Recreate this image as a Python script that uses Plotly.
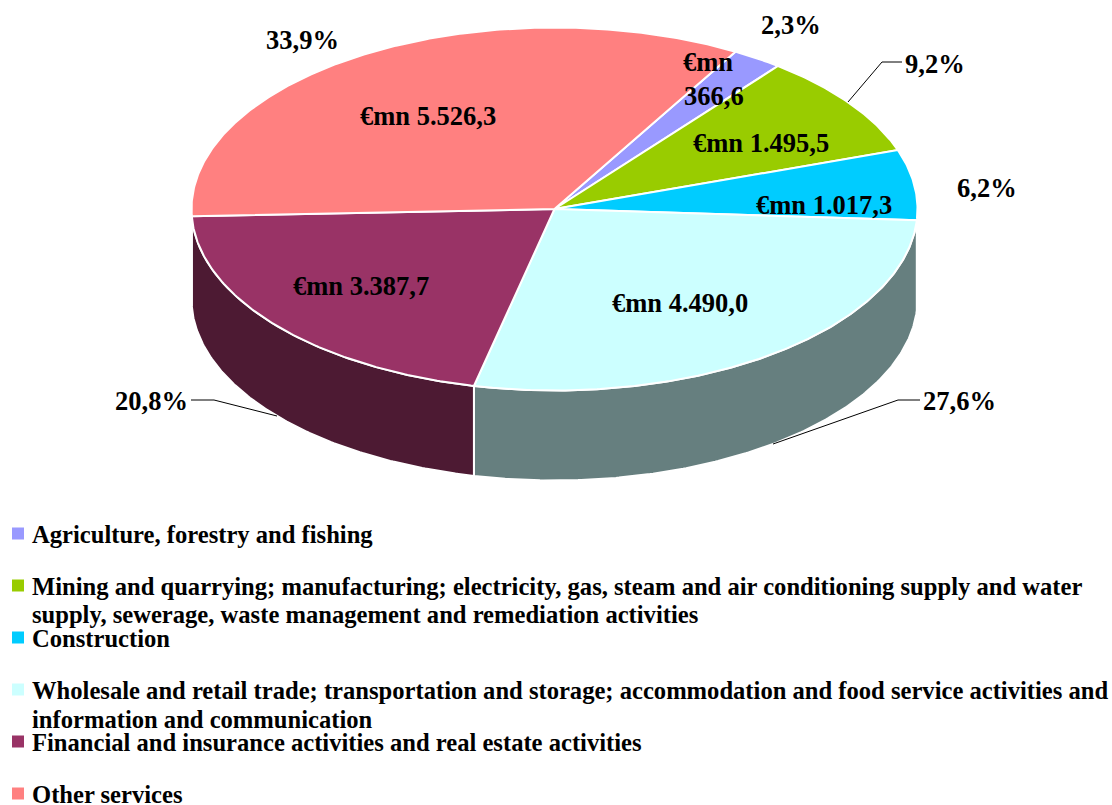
import math
import plotly.graph_objects as go

# --- data ---
categories = [
    "Agriculture, forestry and fishing",
    "Mining and quarrying; manufacturing; electricity, gas, steam and air conditioning supply and water<br>supply, sewerage, waste management and remediation activities",
    "Construction",
    "Wholesale and retail trade; transportation and storage; accommodation and food service activities and<br>information and communication",
    "Financial and insurance activities and real estate activities",
    "Other services",
]
values = [366.6, 1495.5, 1017.3, 4490.0, 3387.7, 5526.3]
share_labels = ["2,3%", "9,2%", "6,2%", "27,6%", "20,8%", "33,9%"]
value_labels = ["€mn<br>366,6", "€mn 1.495,5", "€mn 1.017,3", "€mn 4.490,0", "€mn 3.387,7", "€mn 5.526,3"]

# --- styles ---
top_colors = ["#9999FF", "#99CC00", "#00CCFF", "#CCFFFF", "#993366", "#FF8080"]
side_colors = ["#4D4D80", "#4D6600", "#006680", "#667F7F", "#4D1A33", "#804040"]
FONT = "Liberation Serif"
CX, CY, RX, RY, DEPTH = 554.5, 209, 363, 181.5, 90
START = 29.9  # degrees clockwise from the top of the ellipse

def pt(deg, dy=0):
    a = math.radians(deg)
    return CX + RX * math.sin(a), CY - RY * math.cos(a) + dy

def arc(a, b, dy=0):
    n = max(2, int(abs(b - a) * 2))
    return [pt(a + (b - a) * i / n, dy) for i in range(n + 1)]

fig = go.Figure()
total = sum(values)
spans = []
ang = START
for v in values:
    spans.append((ang, ang + v / total * 360))
    ang += v / total * 360

# side walls (only the front half of the rim, 90..270 degrees)
for (a, b), col, name in zip(spans, side_colors, categories):
    lo, hi = max(a, 90), min(b, 270)
    if hi <= lo:
        continue
    pts = arc(lo, hi) + arc(hi, lo, DEPTH)
    pts.append(pts[0])
    fig.add_trace(go.Scatter(x=[p[0] for p in pts], y=[p[1] for p in pts], mode="lines",
                             fill="toself", fillcolor=col, line=dict(color="white", width=2),
                             hoverinfo="skip", showlegend=False))

# top faces
for (a, b), col, name, v in zip(spans, top_colors, categories, values):
    pts = [(CX, CY)] + arc(a, b) + [(CX, CY)]
    fig.add_trace(go.Scatter(x=[p[0] for p in pts], y=[p[1] for p in pts], mode="lines",
                             fill="toself", fillcolor=col, line=dict(color="white", width=2),
                             text=name.replace("<br>", " "), hoverinfo="text", showlegend=False))

# leader lines
for xs, ys in [([848, 882, 902], [102, 62, 62]),
               ([773, 898, 920], [444, 400, 400]),
               ([277, 214, 191], [416, 400, 400])]:
    fig.add_trace(go.Scatter(x=xs, y=ys, mode="lines", line=dict(color="black", width=1),
                             hoverinfo="skip", showlegend=False))

# legend keys
key_y = [533.5, 585.5, 637.5, 689.5, 741.5, 793.5]
fig.add_trace(go.Scatter(x=[18] * 6, y=key_y, mode="markers",
                         marker=dict(symbol="square", size=12, color=top_colors, line=dict(width=0)),
                         hoverinfo="skip", showlegend=False))

ann = []
def label(x, y, text, size=26.5, xanchor="center"):
    ann.append(dict(x=x, y=y, xref="x", yref="y", text=f"<b>{text}</b>", showarrow=False,
                    xanchor=xanchor, yanchor="middle", borderpad=0,
                    font=dict(family=FONT, size=size, color="black")))

for t, pos in zip(share_labels, [(791, 25), (935, 64), (987, 188), (959, 401), (151, 401), (302, 40)]):
    label(*pos, t)
pos_vals = [None, (761, 143), (824, 205), (680, 303), (361, 286), (428, 116)]
for t, pos in zip(value_labels, pos_vals):
    if pos is None:
        first, second = t.split("<br>")
        label(708, 62, first)
        label(714, 96, second)
    else:
        label(*pos, t)
line_y = [[534], [586, 614], [638], [690, 719], [742], [794]]
for t, ys in zip(categories, line_y):
    for part, y in zip(t.split("<br>"), ys):
        label(30.7, y, part, size=24.6, xanchor="left")

fig.update_layout(width=1112, height=805, margin=dict(l=0, r=0, t=0, b=0),
                  paper_bgcolor="white", plot_bgcolor="white", annotations=ann,
                  xaxis=dict(range=[0, 1112], visible=False, fixedrange=True),
                  yaxis=dict(range=[805, 0], visible=False, fixedrange=True),
                  showlegend=False)
fig.write_html("out.html", post_script="document.body.style.margin='0';", config={"displayModeBar": False})
